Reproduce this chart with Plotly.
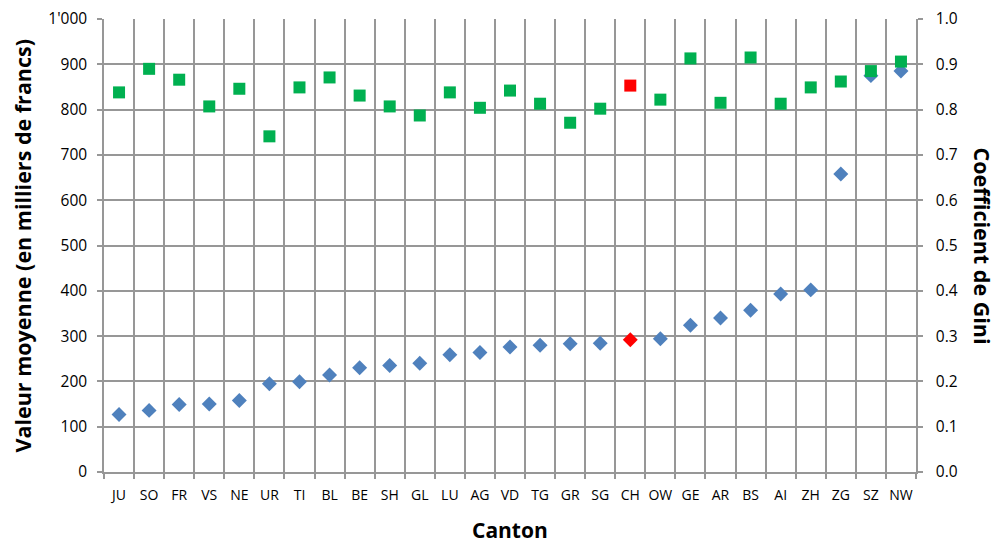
import plotly.graph_objects as go

cantons = ["JU", "SO", "FR", "VS", "NE", "UR", "TI", "BL", "BE", "SH", "GL", "LU", "AG", "VD",
           "TG", "GR", "SG", "CH", "OW", "GE", "AR", "BS", "AI", "ZH", "ZG", "SZ", "NW"]
valeur_moyenne = [127, 136, 149, 150, 158, 195, 199, 214, 230, 235, 240, 259, 264, 276,
                  280, 283, 284, 292, 294, 324, 340, 357, 393, 402, 658, 875, 885]
gini = [0.838, 0.890, 0.866, 0.807, 0.846, 0.741, 0.849, 0.871, 0.831, 0.807, 0.787, 0.838,
        0.804, 0.842, 0.813, 0.771, 0.802, 0.853, 0.822, 0.913, 0.815, 0.915, 0.813, 0.849,
        0.862, 0.885, 0.906]
highlight = "CH"

left_tick_vals = [0, 100, 200, 300, 400, 500, 600, 700, 800, 900, 1000]
left_tick_text = ["0", "100", "200", "300", "400", "500", "600", "700", "800", "900", "1'000"]
right_tick_vals = [0.0, 0.1, 0.2, 0.3, 0.4, 0.5, 0.6, 0.7, 0.8, 0.9, 1.0]
right_tick_text = ["0.0", "0.1", "0.2", "0.3", "0.4", "0.5", "0.6", "0.7", "0.8", "0.9", "1.0"]

BLUE = "#4F81BD"
GREEN = "#00B050"
RED = "#FF0000"
GRID = "#979797"
FONT = "Open Sans, sans-serif"
TFONT = "Open Sans, sans-serif"

green_colors = [RED if c == highlight else GREEN for c in cantons]
blue_colors = [RED if c == highlight else BLUE for c in cantons]

fig = go.Figure()
fig.add_trace(go.Scatter(
    x=cantons, y=gini, mode="markers", yaxis="y2", name="Coefficient de Gini",
    marker=dict(symbol="square", size=12, color=green_colors, line=dict(width=0)),
))
fig.add_trace(go.Scatter(
    x=cantons, y=valeur_moyenne, mode="markers", yaxis="y", name="Valeur moyenne",
    marker=dict(symbol="diamond", size=11.5, color=blue_colors, line=dict(width=0)),
))

fig.update_layout(
    width=998, height=544,
    margin=dict(l=104, r=82, t=19, b=72, autoexpand=False),
    paper_bgcolor="white", plot_bgcolor="white",
    showlegend=False,
    font=dict(family=FONT, size=15, color="#000000"),
    xaxis=dict(
        type="category", tickson="boundaries",
        showgrid=True, gridcolor=GRID, gridwidth=1.5,
        showline=True, linecolor=GRID, linewidth=1.5,
        ticks="outside", ticklen=5, tickcolor=GRID, tickwidth=1.5,
        tickfont=dict(family=FONT, size=14),
        tickangle=0, automargin=False,
        ticklabelstandoff=9,
        range=[-0.5, len(cantons) - 0.5],
        zeroline=False,
    ),
    yaxis=dict(
        range=[0, 1000], tickvals=left_tick_vals, ticktext=left_tick_text,
        showgrid=True, gridcolor=GRID, gridwidth=1.5,
        showline=True, linecolor=GRID, linewidth=1.5,
        ticks="outside", ticklen=5, tickcolor=GRID, tickwidth=1.5,
        tickfont=dict(family=FONT, size=15.5),
        ticklabelstandoff=7, automargin=False,
        zeroline=False,
    ),
    yaxis2=dict(
        overlaying="y", side="right",
        range=[0, 1], tickvals=right_tick_vals, ticktext=right_tick_text,
        showgrid=False,
        showline=True, linecolor=GRID, linewidth=1.5,
        ticks="outside", ticklen=5, tickcolor=GRID, tickwidth=1.5,
        tickfont=dict(family=FONT, size=15.5),
        ticklabelstandoff=10, automargin=False,
        zeroline=False,
    ),
    annotations=[
        dict(text="<b>Valeur moyenne (en milliers de francs)</b>", xref="paper", yref="paper",
             x=0, xshift=-82, y=0.5, xanchor="center", yanchor="middle", textangle=-90, showarrow=False,
             borderpad=0, font=dict(family=TFONT, size=21.5, color="#000000")),
        dict(text="<b>Coefficient de Gini</b>", xref="paper", yref="paper",
             x=1.0, xshift=66, y=0.5, xanchor="center", yanchor="middle", textangle=90, showarrow=False,
             borderpad=0, font=dict(family=TFONT, size=21.5, color="#000000")),
        dict(text="<b>Canton</b>", xref="paper", yref="paper",
             x=0.5, y=0, yshift=-58, xanchor="center", yanchor="middle", showarrow=False,
             borderpad=0, font=dict(family=TFONT, size=21, color="#000000")),
    ],
)

fig.write_html("out.html", config={"displayModeBar": False},
               post_script="document.body.style.margin='0';document.body.style.padding='0';")
